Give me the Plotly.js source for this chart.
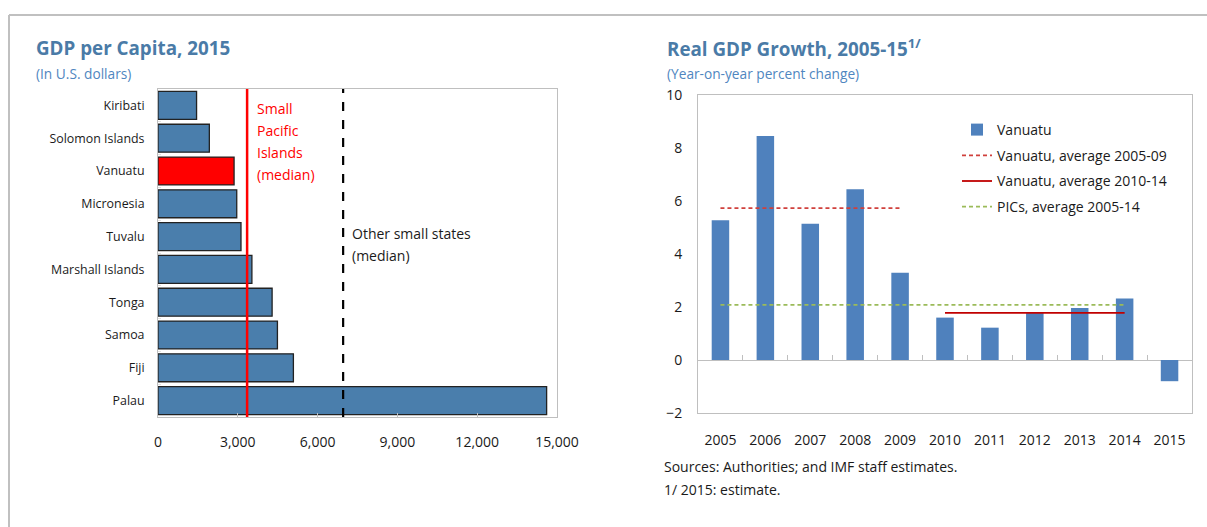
<!DOCTYPE html>
<html>
<head>
<meta charset="utf-8">
<script src="https://cdn.plot.ly/plotly-3.0.1.min.js"></script>
<style>
html,body{margin:0;padding:0;background:#fff;}
#chart{width:1207px;height:527px;}
</style>
</head>
<body>
<div id="chart"></div>
<script>
// ---- Data: GDP per capita, 2015 (US$) ----
const countries = ["Kiribati","Solomon Islands","Vanuatu","Micronesia","Tuvalu","Marshall Islands","Tonga","Samoa","Fiji","Palau"];
const gdpPerCapita = [1450, 1930, 2860, 2960, 3120, 3530, 4290, 4490, 5090, 14610];
const medianSmallPacific = 3350;
const medianOtherSmall = 6960;
const gdpTicks = [0, 3000, 6000, 9000, 12000, 15000];

// ---- Data: Real GDP growth (percent) ----
const years = ["2005","2006","2007","2008","2009","2010","2011","2012","2013","2014","2015"];
const growth = [5.27, 8.45, 5.14, 6.44, 3.29, 1.60, 1.22, 1.78, 1.96, 2.32, -0.80];
const avgYears0509 = ["2005","2009"];
const avg0509 = 5.73;
const avgYears1014 = ["2010","2014"];
const avg1014 = 1.78;
const avgYearsPIC = ["2005","2014"];
const avgPIC = 2.08;

const W = 1207, H = 527;
const px = v => v / W;
const py = v => 1 - v / H;

const FONT = "Open Sans, sans-serif";
const TXT = "#1a1a1a";
const GRID = "#bfbfbf";

// plot areas in pixels
const L = {x0:158, x1:557, y0:89, y1:417};
const R = {x0:698, x1:1192, y0:95, y1:413};

const barColors = countries.map(c => c === "Vanuatu" ? "#FF0000" : "#4A7EAC");

const traces = [
  {
    type: "bar", orientation: "h",
    x: gdpPerCapita, y: countries,
    xaxis: "x", yaxis: "y",
    marker: {color: barColors, line: {color: "#222", width: 1.3}},
    width: 0.85,
    showlegend: false, hoverinfo: "x+y"
  },
  {
    type: "bar",
    x: years, y: growth,
    xaxis: "x2", yaxis: "y2",
    name: "Vanuatu",
    marker: {color: "#4F81BD"},
    width: 0.39,
    legendgroup: "a"
  },
  {
    type: "scatter", mode: "lines",
    x: avgYears0509, y: [avg0509, avg0509],
    xaxis: "x2", yaxis: "y2",
    name: "Vanuatu, average 2005-09",
    line: {color: "#D0403C", width: 1.8, dash: "4px,3px"},
    legendgroup: "b"
  },
  {
    type: "scatter", mode: "lines",
    x: avgYears1014, y: [avg1014, avg1014],
    xaxis: "x2", yaxis: "y2",
    name: "Vanuatu, average 2010-14",
    line: {color: "#C00000", width: 1.8},
    legendgroup: "c"
  },
  {
    type: "scatter", mode: "lines",
    x: avgYearsPIC, y: [avgPIC, avgPIC],
    xaxis: "x2", yaxis: "y2",
    name: "PICs, average 2005-14",
    line: {color: "#9BBB59", width: 1.8, dash: "4px,3px"},
    legendgroup: "d"
  },
  {
    type: "scatter", mode: "lines",
    x: years, y: growth,
    xaxis: "x3", yaxis: "y2",
    line: {width: 0, color: "rgba(0,0,0,0)"},
    showlegend: false, hoverinfo: "skip"
  }
];

const yb = py(R.y1), yt = py(R.y0);

const layout = {
  width: W, height: H,
  margin: {l:0, r:0, t:0, b:0},
  paper_bgcolor: "#fff", plot_bgcolor: "#fff",
  font: {family: FONT, color: TXT, size: 13},
  showlegend: true,
  bargap: 0.15,
  legend: {
    x: px(957), y: py(114), xanchor: "left", yanchor: "top",
    font: {family: FONT, size: 14, color: TXT},
    traceorder: "grouped", tracegroupgap: 4.5,
    bgcolor: "rgba(0,0,0,0)", itemwidth: 30
  },
  xaxis: {
    domain: [px(L.x0), px(L.x1)], anchor: "y",
    range: [0, 15000], tickvals: gdpTicks, tickformat: ",d",
    showgrid: false, zeroline: false,
    showline: true, mirror: true, linecolor: GRID, linewidth: 1,
    ticks: "inside", ticklen: 4, tickcolor: GRID,
    tickfont: {family: FONT, size: 14, color: TXT},
    ticklabelstandoff: 12, fixedrange: true
  },
  yaxis: {
    domain: [py(L.y1), py(L.y0)], anchor: "x",
    type: "category", categoryarray: countries, autorange: "reversed",
    showgrid: false, zeroline: false,
    showline: true, mirror: true, linecolor: GRID, linewidth: 1,
    ticks: "inside", tickson: "boundaries", ticklen: 3, tickcolor: "#e0e0e0",
    tickfont: {family: FONT, size: 12.4, color: TXT},
    ticklabelstandoff: 10, fixedrange: true
  },
  xaxis2: {
    domain: [px(R.x0), px(R.x1)], anchor: "y2",
    type: "category", categoryarray: years, range: [-0.5, 10.5],
    showgrid: false, zeroline: false,
    showline: true, mirror: true, linecolor: GRID, linewidth: 1,
    ticks: "",
    tickfont: {family: FONT, size: 14, color: TXT},
    ticklabelstandoff: 14, fixedrange: true
  },
  xaxis3: {
    overlaying: "x2", anchor: "free",
    position: yb + (yt - yb) * (2 / 12),
    type: "category", categoryarray: years, range: [-0.5, 10.5],
    showgrid: false, zeroline: false, showline: false,
    ticks: "inside", tickson: "boundaries", ticklen: 5, tickcolor: GRID,
    showticklabels: false, fixedrange: true
  },
  yaxis2: {
    domain: [yb, yt], anchor: "x2",
    range: [-2, 10], dtick: 2,
    showgrid: false,
    zeroline: true, zerolinecolor: GRID, zerolinewidth: 1,
    showline: true, mirror: true, linecolor: GRID, linewidth: 1,
    ticks: "",
    tickfont: {family: FONT, size: 14, color: TXT},
    ticklabelstandoff: 12, fixedrange: true
  },
  shapes: [
    // outer frame
    {type: "line", xref: "paper", yref: "paper", x0: px(9), x1: 1, y0: py(15), y1: py(15),
     line: {color: "#c0c0c0", width: 2}},
    {type: "line", xref: "paper", yref: "paper", x0: px(9), x1: px(9), y0: py(15), y1: 0,
     line: {color: "#c0c0c0", width: 2}},
    // median lines
    {type: "line", xref: "x", yref: "y domain", x0: medianSmallPacific, x1: medianSmallPacific, y0: 0, y1: 1,
     line: {color: "#FF0000", width: 2.5}},
    {type: "line", xref: "x", yref: "y domain", x0: medianOtherSmall, x1: medianOtherSmall, y0: 0, y1: 1,
     line: {color: "#000", width: 2.2, dash: "dash"}}
  ],
  annotations: []
};

function ann(text, x, y, opts) {
  layout.annotations.push(Object.assign({
    text: text, xref: "paper", yref: "paper", x: px(x), y: py(y),
    xanchor: "left", yanchor: "middle", showarrow: false,
    font: {family: FONT, size: 14, color: TXT}
  }, opts || {}));
}

// titles
ann("<b>GDP per Capita, 2015</b>", 34, 48, {font: {family: FONT, size: 18.8, color: "#4A7BA7"}});
ann("(In U.S. dollars)", 34, 73, {font: {family: FONT, size: 13.7, color: "#4F86C0"}});
ann("<b>Real GDP Growth, 2005-15<sup>1/</sup></b>", 665, 48, {font: {family: FONT, size: 18.8, color: "#4A7BA7"}});
ann("(Year-on-year percent change)", 665, 73, {font: {family: FONT, size: 13.7, color: "#4F86C0"}});

// median labels
const redLines = ["Small", "Pacific", "Islands", "(median)"];
redLines.forEach((t, i) => {
  layout.annotations.push({
    text: t, xref: "x", yref: "paper", x: medianSmallPacific, xshift: 8, y: py(108 + i * 22.3),
    xanchor: "left", yanchor: "middle", showarrow: false,
    font: {family: FONT, size: 14, color: "#FF0000"}
  });
});
["Other small states", "(median)"].forEach((t, i) => {
  layout.annotations.push({
    text: t, xref: "x", yref: "paper", x: medianOtherSmall, xshift: 7, y: py(233 + i * 22.5),
    xanchor: "left", yanchor: "middle", showarrow: false,
    font: {family: FONT, size: 14, color: TXT}
  });
});

// footnotes
ann("Sources: Authorities; and IMF staff estimates.", 662, 466);
ann("1/ 2015: estimate.", 662, 489);

Plotly.newPlot("chart", traces, layout, {displayModeBar: false, staticPlot: true});
</script>
</body>
</html>
